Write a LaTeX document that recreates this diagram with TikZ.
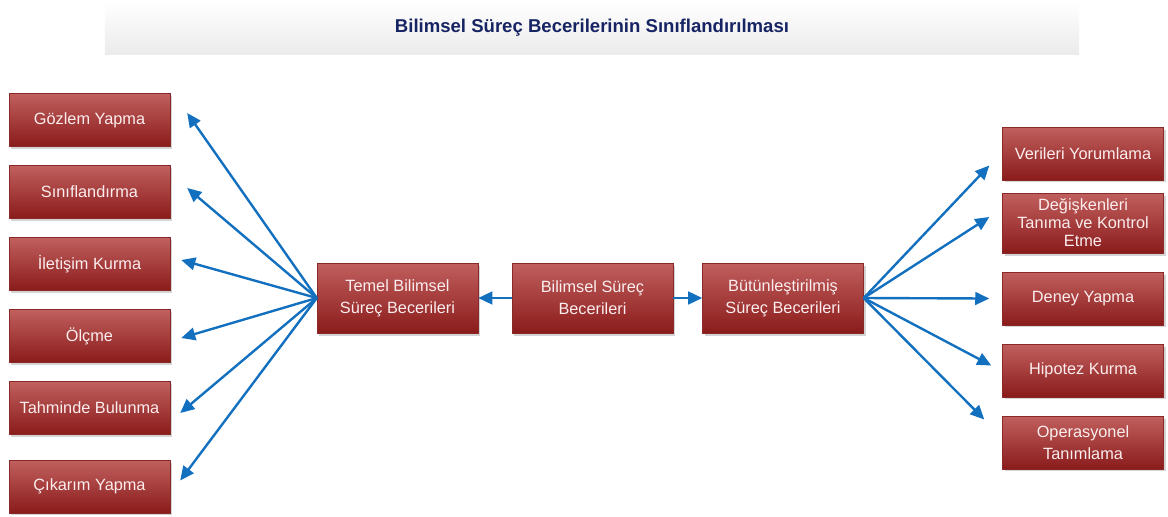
\documentclass[tikz,border=0pt]{standalone}
\usepackage{fontspec}
\setmainfont{Liberation Sans}
\usetikzlibrary{arrows.meta,positioning,shadows}
\definecolor{SkillRose}{HTML}{C0605E}
\definecolor{SkillRed}{HTML}{8A1B1B}
\definecolor{SkillEdge}{HTML}{8A2A28}
\definecolor{SkillText}{HTML}{FBEDEE}
\definecolor{SkillBlue}{HTML}{1270BF}
\definecolor{SkillNavy}{HTML}{172463}
\definecolor{SkillBar}{HTML}{EBEBEB}

\begin{document}
\begin{tikzpicture}[x=0.025cm,y=-0.025cm,font=\fontsize{11.6}{15.5}\selectfont,
  skillbox/.style={draw=SkillEdge,top color=SkillRose,bottom color=SkillRed,text=SkillText,
    minimum width=4.02cm,minimum height=1.32cm,inner sep=1pt,align=center,
    drop shadow={shadow xshift=1.6pt,shadow yshift=-1.8pt,opacity=0.35}},
  skillarrow/.style={SkillBlue,line width=1.7pt,-{Triangle[length=10pt,width=9pt]}}]
\useasboundingbox (0,0) rectangle (1168,516);
% title bar
\node[top color=white,bottom color=SkillBar,minimum width=24.35cm,minimum height=1.3cm,
  text=SkillNavy,font=\fontsize{13.2}{15}\selectfont\bfseries] (title) at (592,28)
  {Bilimsel Süreç Becerilerinin Sınıflandırılması};
% middle row
\node[skillbox,minimum height=1.75cm] (temel) at (397.5,298) {Temel Bilimsel\\Süreç Becerileri};
\node[skillbox,minimum height=1.75cm] (bilimsel) at (592.5,298) {Bilimsel Süreç\\Becerileri};
\node[skillbox,minimum height=1.75cm] (butun) at (783,298) {Bütünleştirilmiş\\Süreç Becerileri};
\draw[skillarrow] (bilimsel) -- (temel);
\draw[skillarrow] (bilimsel) -- (butun);
% basic skills
\foreach \n/\y/\lab/\dx/\dy in {gozlem/120/{Gözlem Yapma}/17/-7,
    sinif/192/{Sınıflandırma}/17/-4,
    iletisim/264/{İletişim Kurma}/11/-4,
    olcme/336/{Ölçme}/11/2,
    tahmin/408/{Tahminde Bulunma}/10/5,
    cikarim/486.5/{Çıkarım Yapma}/10/-6} {
  \node[skillbox] (\n) at (89.5,\y) {\lab};
  \draw[skillarrow] (temel.west) -- ([shift={(\dx,\dy)}]\n.east);
}
% integrated skills
\node[skillbox,minimum height=1.5cm,font=\fontsize{11.6}{12.8}\selectfont] (degisken) at (1083,223)
  {Değişkenleri\\Tanıma ve Kontrol\\Etme};
\draw[skillarrow] (butun.east) -- ([shift={(-13,-6)}]degisken.west);
\foreach \n/\y/\lab/\dx/\dy in {verileri/153.5/{Verileri Yorumlama}/-13/12,
    deney/298.5/{Deney Yapma}/-13/0,
    hipotez/370.5/{Hipotez Kurma}/-11/-5,
    operasyon/442.5/{Operasyonel\\Tanımlama}/-18/-23} {
  \node[skillbox] (\n) at (1083,\y) {\lab};
  \draw[skillarrow] (butun.east) -- ([shift={(\dx,\dy)}]\n.west);
}
\end{tikzpicture}
\end{document}
